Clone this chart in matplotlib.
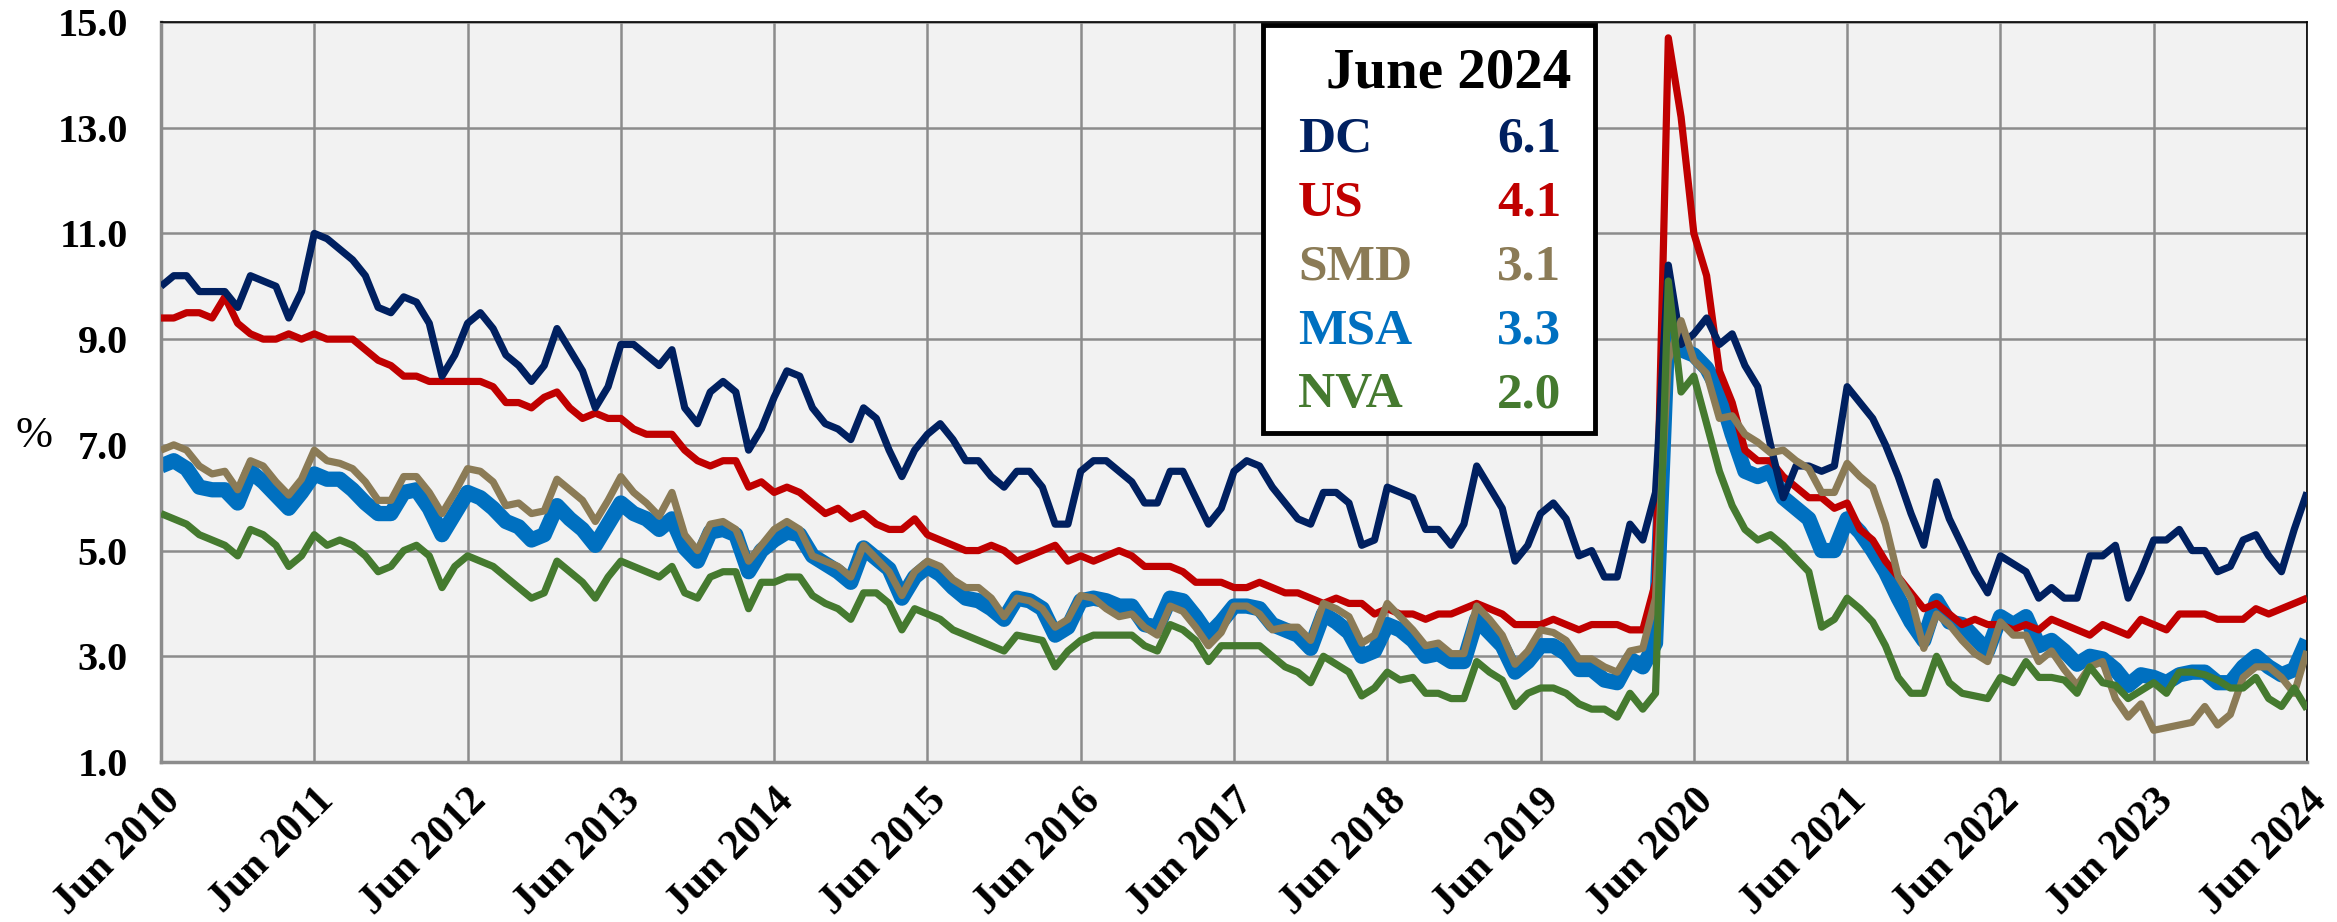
import matplotlib
matplotlib.use('Agg')
import numpy as np
import matplotlib.pyplot as plt
from matplotlib.patches import Rectangle

# unemployment rate, %, monthly Jun 2010 .. Jun 2024 (one row per year, Jun..May)
dc = [10.0, 10.2, 10.2, 9.9, 9.9, 9.9, 9.6, 10.2, 10.1, 10.0, 9.4, 9.9,
      11.0, 10.9, 10.7, 10.5, 10.2, 9.6, 9.5, 9.8, 9.7, 9.3, 8.3, 8.7,
      9.3, 9.5, 9.2, 8.7, 8.5, 8.2, 8.5, 9.2, 8.8, 8.4, 7.7, 8.1,
      8.9, 8.9, 8.7, 8.5, 8.8, 7.7, 7.4, 8.0, 8.2, 8.0, 6.9, 7.3,
      7.9, 8.4, 8.3, 7.7, 7.4, 7.3, 7.1, 7.7, 7.5, 6.9, 6.4, 6.9,
      7.2, 7.4, 7.1, 6.7, 6.7, 6.4, 6.2, 6.5, 6.5, 6.2, 5.5, 5.5,
      6.5, 6.7, 6.7, 6.5, 6.3, 5.9, 5.9, 6.5, 6.5, 6.0, 5.5, 5.8,
      6.5, 6.7, 6.6, 6.2, 5.9, 5.6, 5.5, 6.1, 6.1, 5.9, 5.1, 5.2,
      6.2, 6.1, 6.0, 5.4, 5.4, 5.1, 5.5, 6.6, 6.2, 5.8, 4.8, 5.1,
      5.7, 5.9, 5.6, 4.9, 5.0, 4.5, 4.5, 5.5, 5.2, 6.1, 10.4, 8.9,
      9.1, 9.4, 8.9, 9.1, 8.5, 8.1, 7.0, 6.0, 6.6, 6.6, 6.5, 6.6,
      8.1, 7.8, 7.5, 7.0, 6.4, 5.7, 5.1, 6.3, 5.6, 5.1, 4.6, 4.2,
      4.9, 4.75, 4.6, 4.1, 4.3, 4.1, 4.1, 4.9, 4.9, 5.1, 4.1, 4.6,
      5.2, 5.2, 5.4, 5.0, 5.0, 4.6, 4.7, 5.2, 5.3, 4.9, 4.6, 5.4,
      6.1]

us = [9.4, 9.4, 9.5, 9.5, 9.4, 9.8, 9.3, 9.1, 9.0, 9.0, 9.1, 9.0,
      9.1, 9.0, 9.0, 9.0, 8.8, 8.6, 8.5, 8.3, 8.3, 8.2, 8.2, 8.2,
      8.2, 8.2, 8.1, 7.8, 7.8, 7.7, 7.9, 8.0, 7.7, 7.5, 7.6, 7.5,
      7.5, 7.3, 7.2, 7.2, 7.2, 6.9, 6.7, 6.6, 6.7, 6.7, 6.2, 6.3,
      6.1, 6.2, 6.1, 5.9, 5.7, 5.8, 5.6, 5.7, 5.5, 5.4, 5.4, 5.6,
      5.3, 5.2, 5.1, 5.0, 5.0, 5.1, 5.0, 4.8, 4.9, 5.0, 5.1, 4.8,
      4.9, 4.8, 4.9, 5.0, 4.9, 4.7, 4.7, 4.7, 4.6, 4.4, 4.4, 4.4,
      4.3, 4.3, 4.4, 4.3, 4.2, 4.2, 4.1, 4.0, 4.1, 4.0, 4.0, 3.8,
      3.9, 3.8, 3.8, 3.7, 3.8, 3.8, 3.9, 4.0, 3.9, 3.8, 3.6, 3.6,
      3.6, 3.7, 3.6, 3.5, 3.6, 3.6, 3.6, 3.5, 3.5, 4.4, 14.7, 13.2,
      11.0, 10.2, 8.4, 7.8, 6.9, 6.7, 6.7, 6.4, 6.2, 6.0, 6.0, 5.8,
      5.9, 5.4, 5.2, 4.8, 4.5, 4.2, 3.9, 4.0, 3.8, 3.6, 3.7, 3.6,
      3.6, 3.5, 3.6, 3.5, 3.7, 3.6, 3.5, 3.4, 3.6, 3.5, 3.4, 3.7,
      3.6, 3.5, 3.8, 3.8, 3.8, 3.7, 3.7, 3.7, 3.9, 3.8, 3.9, 4.0,
      4.1]

smd = [6.9, 7.0, 6.9, 6.6, 6.45, 6.5, 6.15, 6.7, 6.6, 6.3, 6.05, 6.35,
       6.9, 6.7, 6.65, 6.55, 6.3, 5.95, 5.95, 6.4, 6.4, 6.1, 5.7, 6.1,
       6.55, 6.5, 6.3, 5.85, 5.9, 5.7, 5.75, 6.35, 6.15, 5.95, 5.55, 5.95,
       6.4, 6.1, 5.9, 5.65, 6.1, 5.3, 5.0, 5.5, 5.55, 5.4, 4.8, 5.1,
       5.4, 5.55, 5.4, 4.9, 4.8, 4.7, 4.5, 5.1, 4.85, 4.6, 4.15, 4.6,
       4.8, 4.7, 4.45, 4.3, 4.3, 4.1, 3.75, 4.1, 4.05, 3.9, 3.55, 3.7,
       4.15, 4.1, 3.9, 3.75, 3.8, 3.55, 3.4, 3.95, 3.85, 3.55, 3.2, 3.45,
       3.95, 3.95, 3.8, 3.5, 3.55, 3.55, 3.3, 4.0, 3.9, 3.75, 3.25, 3.4,
       4.0, 3.75, 3.5, 3.2, 3.25, 3.05, 3.05, 3.95, 3.7, 3.4, 2.85, 3.1,
       3.5, 3.45, 3.3, 2.95, 2.95, 2.8, 2.7, 3.1, 3.15, 4.1, 8.6, 9.35,
       8.6, 8.35, 7.5, 7.55, 7.2, 7.05, 6.85, 6.9, 6.7, 6.55, 6.1, 6.1,
       6.65, 6.4, 6.2, 5.5, 4.5, 4.1, 3.15, 3.8, 3.6, 3.3, 3.05, 2.9,
       3.65, 3.4, 3.4, 2.9, 3.1, 2.75, 2.45, 2.8, 2.9, 2.2, 1.85, 2.1,
       1.6, 1.65, 1.7, 1.75, 2.05, 1.7, 1.9, 2.6, 2.8, 2.8, 2.6, 2.3,
       3.1]

msa = [6.6, 6.7, 6.55, 6.2, 6.15, 6.15, 5.9, 6.5, 6.3, 6.05, 5.8, 6.1,
       6.45, 6.35, 6.35, 6.15, 5.9, 5.7, 5.7, 6.1, 6.15, 5.8, 5.3, 5.7,
       6.1, 6.0, 5.8, 5.55, 5.45, 5.2, 5.3, 5.85, 5.6, 5.4, 5.1, 5.5,
       5.9, 5.7, 5.6, 5.4, 5.6, 5.05, 4.8, 5.35, 5.4, 5.3, 4.6, 5.0,
       5.2, 5.35, 5.3, 4.9, 4.75, 4.6, 4.4, 5.05, 4.85, 4.65, 4.1, 4.5,
       4.7, 4.55, 4.3, 4.1, 4.05, 3.9, 3.7, 4.1, 4.05, 3.9, 3.4, 3.55,
       4.05, 4.1, 4.05, 3.95, 3.95, 3.6, 3.55, 4.1, 4.05, 3.75, 3.4, 3.65,
       3.95, 3.95, 3.9, 3.6, 3.5, 3.4, 3.15, 3.8, 3.65, 3.45, 3.0, 3.1,
       3.6, 3.5, 3.3, 3.0, 3.05, 2.9, 2.9, 3.7, 3.45, 3.2, 2.7, 2.9,
       3.2, 3.2, 3.05, 2.75, 2.75, 2.55, 2.5, 2.95, 2.8, 3.25, 9.4, 8.8,
       8.7, 8.45, 8.0, 7.2, 6.5, 6.4, 6.5, 6.0, 5.8, 5.6, 5.0, 5.0,
       5.6, 5.35, 5.0, 4.6, 4.1, 3.65, 3.3, 4.05, 3.65, 3.6, 3.35, 3.1,
       3.75, 3.6, 3.75, 3.2, 3.3, 3.1, 2.85, 3.0, 2.95, 2.75, 2.45, 2.65,
       2.6, 2.5, 2.65, 2.7, 2.7, 2.5, 2.5, 2.8, 3.0, 2.8, 2.65, 2.75,
       3.3]

nva = [5.7, 5.6, 5.5, 5.3, 5.2, 5.1, 4.9, 5.4, 5.3, 5.1, 4.7, 4.9,
       5.3, 5.1, 5.2, 5.1, 4.9, 4.6, 4.7, 5.0, 5.1, 4.9, 4.3, 4.7,
       4.9, 4.8, 4.7, 4.5, 4.3, 4.1, 4.2, 4.8, 4.6, 4.4, 4.1, 4.5,
       4.8, 4.7, 4.6, 4.5, 4.7, 4.2, 4.1, 4.5, 4.6, 4.6, 3.9, 4.4,
       4.4, 4.5, 4.5, 4.15, 4.0, 3.9, 3.7, 4.2, 4.2, 4.0, 3.5, 3.9,
       3.8, 3.7, 3.5, 3.4, 3.3, 3.2, 3.1, 3.4, 3.35, 3.3, 2.8, 3.1,
       3.3, 3.4, 3.4, 3.4, 3.4, 3.2, 3.1, 3.6, 3.5, 3.3, 2.9, 3.2,
       3.2, 3.2, 3.2, 3.0, 2.8, 2.7, 2.5, 3.0, 2.85, 2.7, 2.25, 2.4,
       2.7, 2.55, 2.6, 2.3, 2.3, 2.2, 2.2, 2.9, 2.7, 2.55, 2.05, 2.3,
       2.4, 2.4, 2.3, 2.1, 2.0, 2.0, 1.85, 2.3, 2.0, 2.3, 10.1, 8.0,
       8.3, 7.4, 6.5, 5.85, 5.4, 5.2, 5.3, 5.1, 4.85, 4.6, 3.55, 3.7,
       4.1, 3.9, 3.65, 3.2, 2.6, 2.3, 2.3, 3.0, 2.5, 2.3, 2.25, 2.2,
       2.6, 2.5, 2.9, 2.6, 2.6, 2.55, 2.3, 2.8, 2.5, 2.45, 2.2, 2.35,
       2.5, 2.3, 2.7, 2.7, 2.65, 2.55, 2.4, 2.4, 2.6, 2.2, 2.05, 2.4,
       2.0]

year_labels = ['Jun 2010', 'Jun 2011', 'Jun 2012', 'Jun 2013', 'Jun 2014',
               'Jun 2015', 'Jun 2016', 'Jun 2017', 'Jun 2018', 'Jun 2019',
               'Jun 2020', 'Jun 2021', 'Jun 2022', 'Jun 2023', 'Jun 2024']

names = ['DC', 'US', 'SMD', 'MSA', 'NVA']
latest = ['6.1', '4.1', '3.1', '3.3', '2.0']
colors = ['#002060', '#C00000', '#8B7B56', '#0070C0', '#457A2F']

W, H = 2337, 922
fig = plt.figure(figsize=(W / 100, H / 100), dpi=100)
ax = fig.add_axes([161 / W, 1 - 762 / H, (2307 - 161) / W, (762 - 22) / H])
ax.set_facecolor('#F2F2F2')

x = np.arange(len(dc))
series = [dc, us, smd, msa, nva]
widths = [5.2, 5.2, 5.2, 11, 5.2]
zorders = [4, 3, 5, 2, 6]
for vals, c, lw, z in zip(series, colors, widths, zorders):
    ax.plot(x, vals, color=c, lw=lw, zorder=z, solid_joinstyle='round', solid_capstyle='butt')

ax.set_xlim(0, len(dc) - 1)
ax.set_ylim(1, 15)
ax.set_yticks(np.arange(1, 16, 2))
ax.set_yticklabels([f'{v:.1f}' for v in np.arange(1, 16, 2)])
ax.set_xticks(np.arange(0, len(dc), 12))
ax.set_xticklabels(year_labels, rotation=45, ha='right', va='top', rotation_mode='anchor')
ax.grid(True, color='#8C8C8C', lw=1.8, zorder=1)
ax.set_axisbelow(True)
ax.tick_params(length=0)
ax.tick_params(axis='y', pad=24)
ax.tick_params(axis='x', pad=14)
for lab in ax.get_yticklabels():
    lab.set_fontfamily('Liberation Serif')
    lab.set_fontweight('bold')
    lab.set_fontsize(29)
for lab in ax.get_xticklabels():
    lab.set_fontfamily('Liberation Serif')
    lab.set_fontweight('bold')
    lab.set_fontsize(30)

for s in ['left', 'bottom']:
    ax.spines[s].set_color('#8C8C8C')
    ax.spines[s].set_linewidth(2.5)
for s in ['top', 'right']:
    ax.spines[s].set_color('black')
    ax.spines[s].set_linewidth(1.2)

fig.text(34 / W, 1 - 436 / H, '%', fontsize=32, family='Liberation Serif',
         ha='center', va='center')

# latest-value box
box = Rectangle((1263 / W, 1 - 433 / H), (1595 - 1263) / W, (433 - 25) / H,
                transform=fig.transFigure, facecolor='white', edgecolor='black',
                lw=3.5, zorder=5)
fig.patches.append(box)
fig.text(1449 / W, 1 - 88 / H, 'June 2024', fontsize=41, family='Liberation Serif',
         fontweight='bold', ha='center', va='baseline', zorder=6)
baselines = [152, 215, 279, 343, 407]
for name, val, c, yb in zip(names, latest, colors, baselines):
    fig.text(1298 / W, 1 - yb / H, name, fontsize=37, family='Liberation Serif',
             fontweight='bold', color=c, ha='left', va='baseline', zorder=6)
    fig.text(1561 / W, 1 - yb / H, val, fontsize=37, family='Liberation Serif',
             fontweight='bold', color=c, ha='right', va='baseline', zorder=6)

fig.savefig('out.png', dpi=100)
